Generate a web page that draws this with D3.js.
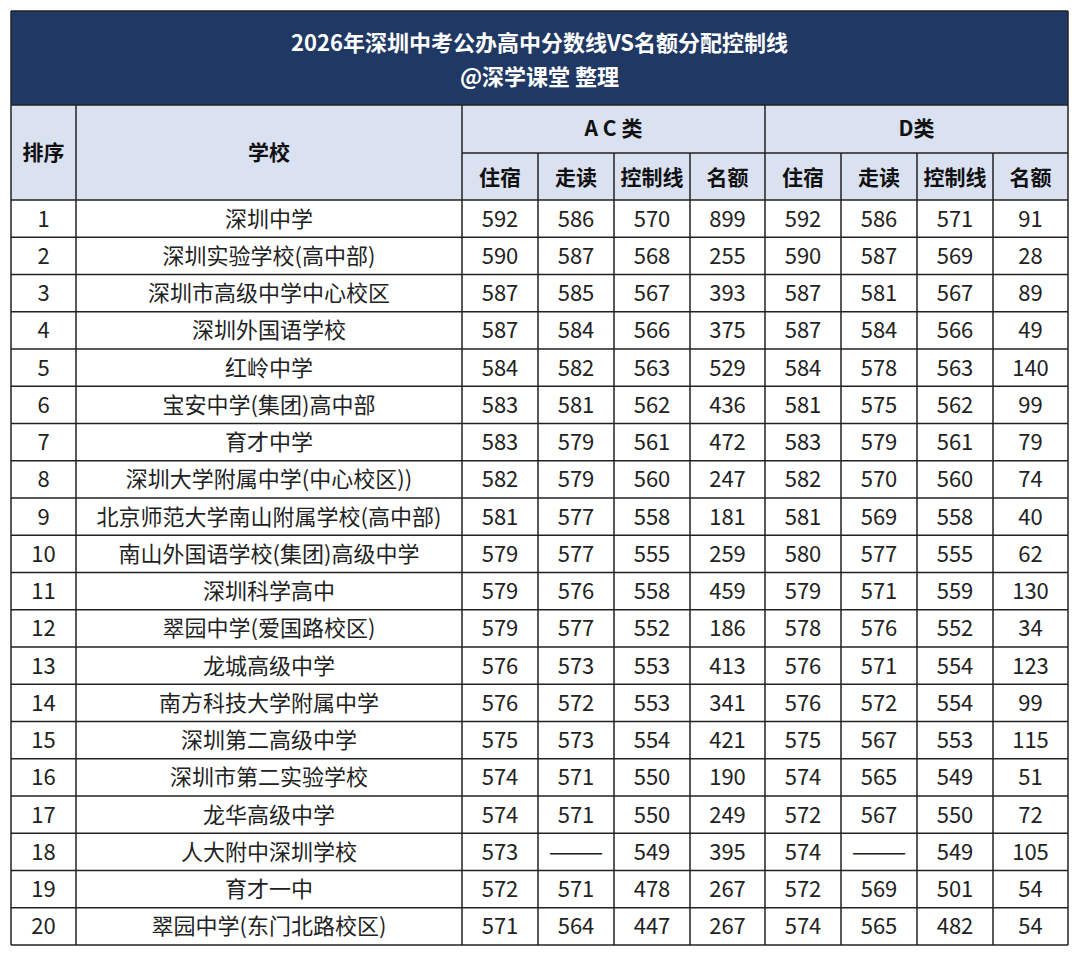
<!DOCTYPE html>
<html><head><meta charset="utf-8">
<script src="https://cdn.jsdelivr.net/npm/d3@7"></script>
<style>body{margin:0;background:#fff}text{font-family:"Noto Sans CJK SC","Noto Sans",sans-serif}</style>
</head><body><svg id="chart" width="1080" height="957"></svg>
<script>
// data
var schools = ["深圳中学","深圳实验学校(高中部)","深圳市高级中学中心校区","深圳外国语学校","红岭中学","宝安中学(集团)高中部","育才中学","深圳大学附属中学(中心校区))","北京师范大学南山附属学校(高中部)","南山外国语学校(集团)高级中学","深圳科学高中","翠园中学(爱国路校区)","龙城高级中学","南方科技大学附属中学","深圳第二高级中学","深圳市第二实验学校","龙华高级中学","人大附中深圳学校","育才一中","翠园中学(东门北路校区)"];
var acBoard = [592,590,587,587,584,583,583,582,581,579,579,579,576,576,575,574,574,573,572,571];
var acDay   = [586,587,585,584,582,581,579,579,577,577,576,577,573,572,573,571,571,null,571,564];
var acLine  = [570,568,567,566,563,562,561,560,558,555,558,552,553,553,554,550,550,549,478,447];
var acQuota = [899,255,393,375,529,436,472,247,181,259,459,186,413,341,421,190,249,395,267,267];
var dBoard  = [592,590,587,587,584,581,583,582,581,580,579,578,576,576,575,574,572,574,572,574];
var dDay    = [586,587,581,584,578,575,579,570,569,577,571,576,571,572,567,565,567,null,569,565];
var dLine   = [571,569,567,566,563,562,561,560,558,555,559,552,554,554,553,549,550,549,501,482];
var dQuota  = [91,28,89,49,140,99,79,74,40,62,130,34,123,99,115,51,72,105,54,54];
var subHeads = ["住宿","走读","控制线","名额","住宿","走读","控制线","名额"];
var groups = ["A C 类","D类"];

var svg = d3.select("#chart");
var L = 11, R = 1068, T = 11, titleB = 105, h1B = 153, headB = 200, B = 945;
var edges = [L, 76, 462, 538, 614, 690, 765, 841, 917, 993, R];
var rows = d3.scaleBand().domain(d3.range(20)).range([headB, B]);
var dark = "#203864", light = "#dae1f1", line = "#222";

// title block
svg.append("rect").attr("x", L).attr("y", T).attr("width", R - L).attr("height", titleB - T).attr("fill", dark);
svg.append("text").attr("x", (L + R) / 2).attr("y", 51).attr("text-anchor", "middle")
  .attr("fill", "#fff").attr("font-size", 22).attr("font-weight", "bold").text("2026年深圳中考公办高中分数线VS名额分配控制线");
svg.append("text").attr("x", (L + R) / 2).attr("y", 85).attr("text-anchor", "middle")
  .attr("fill", "#fff").attr("font-size", 22).attr("font-weight", "bold").text("@深学课堂 整理");

// header
svg.append("rect").attr("x", L).attr("y", titleB).attr("width", R - L).attr("height", headB - titleB).attr("fill", light);
var hd = svg.append("g").attr("font-size", 21).attr("font-weight", "bold").attr("text-anchor", "middle").attr("fill", "#111");
hd.append("text").attr("x", (edges[0] + edges[1]) / 2).attr("y", (titleB + headB) / 2 + 7).text("排序");
hd.append("text").attr("x", (edges[1] + edges[2]) / 2).attr("y", (titleB + headB) / 2 + 7).text("学校");
groups.forEach(function(g, i) {
  hd.append("text").attr("x", (edges[2 + i * 4] + edges[6 + i * 4]) / 2).attr("y", (titleB + h1B) / 2 + 7).text(g);
});
subHeads.forEach(function(s, i) {
  hd.append("text").attr("x", (edges[2 + i] + edges[3 + i]) / 2).attr("y", (h1B + headB) / 2 + 8).text(s);
});

// body cells
var cols = [schools.map(function(d, i) { return i + 1; }), schools, acBoard, acDay, acLine, acQuota, dBoard, dDay, dLine, dQuota];
var body = svg.append("g").attr("font-size", 22).attr("text-anchor", "middle").attr("fill", "#222");
cols.forEach(function(col, c) {
  body.selectAll(null).data(col).enter().append("text")
    .attr("x", (edges[c] + edges[c + 1]) / 2)
    .attr("y", function(d, i) { return rows(i) + rows.bandwidth() / 2 + 8; })
    .text(function(d) { return d === null ? "———" : d; });
});

// grid lines
var g = svg.append("g").attr("stroke", line).attr("stroke-width", 1.5);
rows.domain().forEach(function(i) {
  g.append("line").attr("x1", L).attr("x2", R).attr("y1", rows(i)).attr("y2", rows(i));
});
g.append("line").attr("x1", L).attr("x2", R).attr("y1", B).attr("y2", B);
g.append("line").attr("x1", L).attr("x2", R).attr("y1", titleB).attr("y2", titleB);
g.append("line").attr("x1", edges[2]).attr("x2", R).attr("y1", h1B).attr("y2", h1B);
edges.forEach(function(x, i) {
  var top = (i === 0 || i === edges.length - 1) ? T : (i === 1 || i === 2 || i === 6) ? titleB : h1B;
  g.append("line").attr("x1", x).attr("x2", x).attr("y1", top).attr("y2", B);
});
g.append("line").attr("x1", L).attr("x2", R).attr("y1", T).attr("y2", T);
</script></body></html>
